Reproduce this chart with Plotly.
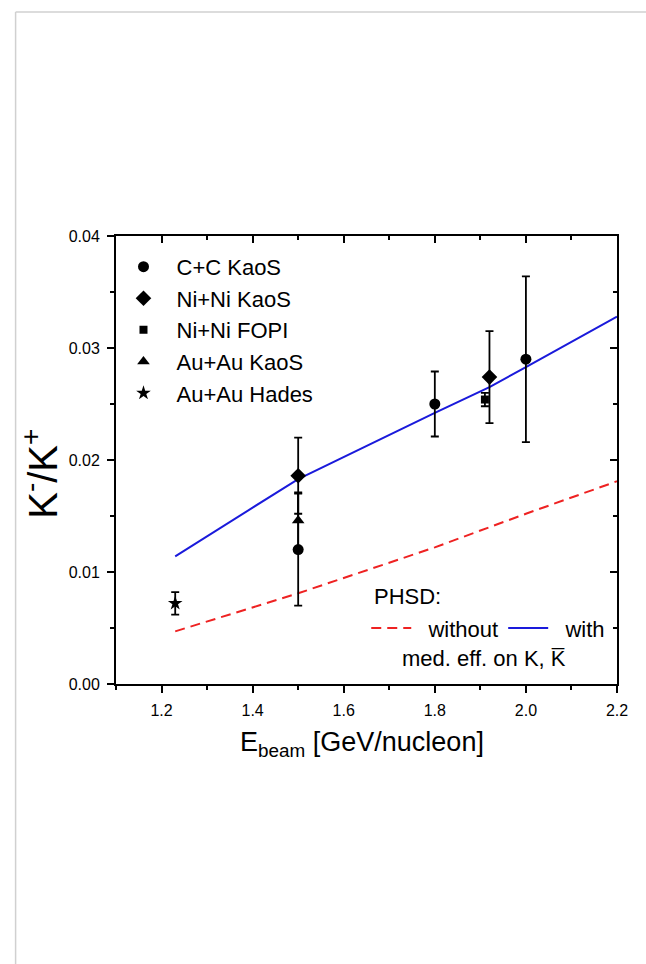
import plotly.graph_objects as go

# ---- data ----
cc_x = [1.5, 1.8, 2.0]
cc_y = [0.012, 0.025, 0.029]
cc_err = [0.005, 0.0029, 0.0074]

nini_kaos_x = [1.5, 1.92]
nini_kaos_y = [0.0186, 0.0274]
nini_kaos_err = [0.0034, 0.0041]

nini_fopi_x = [1.91]
nini_fopi_y = [0.0254]
nini_fopi_err = [0.0006]

auau_kaos_x = [1.5]
auau_kaos_y = [0.0146]
auau_kaos_err = [0.0025]

hades_x = [1.23]
hades_y = [0.0072]
hades_err = [0.001]

with_x = [1.23, 1.5, 1.8, 1.92, 2.0, 2.2]
with_y = [0.0114, 0.0183, 0.0242, 0.0265, 0.0283, 0.0328]

without_x = [1.23, 1.5, 1.8, 2.0, 2.2]
without_y = [0.0047, 0.0081, 0.0122, 0.0152, 0.0181]

FONT = "Liberation Sans, Arial, Helvetica, sans-serif"

fig = go.Figure()

# model curves
fig.add_trace(go.Scatter(x=without_x, y=without_y, mode="lines", name="  without",
                         line=dict(color="#ee2222", width=2, dash="10px,6px"),
                         legend="legend2"))
fig.add_trace(go.Scatter(x=with_x, y=with_y, mode="lines", name="  with",
                         line=dict(color="#1a1adb", width=2),
                         legend="legend2"))

def data_trace(x, y, err, name, symbol, size):
    return go.Scatter(x=x, y=y, mode="markers", name=name,
                      marker=dict(symbol=symbol, size=size, color="black"),
                      error_y=dict(type="data", array=err, visible=True,
                                   color="black", thickness=1.8, width=4),
                      legend="legend")

fig.add_trace(data_trace(cc_x, cc_y, cc_err, "C+C KaoS", "circle", 11))
fig.add_trace(data_trace(nini_kaos_x, nini_kaos_y, nini_kaos_err, "Ni+Ni KaoS", "diamond", 12))
fig.add_trace(data_trace(nini_fopi_x, nini_fopi_y, nini_fopi_err, "Ni+Ni FOPI", "square", 8))
fig.add_trace(data_trace(auau_kaos_x, auau_kaos_y, auau_kaos_err, "Au+Au KaoS", "triangle-up", 11))
fig.add_trace(data_trace(hades_x, hades_y, hades_err, "Au+Au Hades", "star", 11))

# empty helper traces so that the mirrored (top / right) frame axes get drawn
fig.add_trace(go.Scatter(x=[], y=[], xaxis="x2", yaxis="y", showlegend=False,
                         hoverinfo="skip"))
fig.add_trace(go.Scatter(x=[], y=[], xaxis="x", yaxis="y2", showlegend=False,
                         hoverinfo="skip"))

xr = [1.1, 2.2]
yr = [0.0, 0.04]

common_x = dict(range=xr, tick0=1.2, dtick=0.2, showgrid=False, zeroline=False,
                showline=True, linecolor="black", linewidth=2,
                tickcolor="black", tickwidth=1.5, ticklen=7, autorange=False)
common_y = dict(range=yr, tick0=0, dtick=0.01, showgrid=False, zeroline=False,
                showline=True, linecolor="black", linewidth=2,
                tickcolor="black", tickwidth=1.5, ticklen=7, autorange=False)

fig.update_layout(
    width=646, height=964,
    margin=dict(l=115.5, r=29, t=236, b=280, autoexpand=False),
    paper_bgcolor="white", plot_bgcolor="white",
    font=dict(family=FONT, color="black", size=16),
    xaxis=dict(**common_x, side="bottom", ticks="outside", tickformat=".1f",
               tickfont=dict(size=16), ticklabelstandoff=4,
               minor=dict(ticks="outside", dtick=0.1, tick0=1.1, ticklen=4,
                          tickwidth=1.5, tickcolor="black")),
    yaxis=dict(**common_y, side="left", ticks="outside", tickformat=".2f",
               tickfont=dict(size=16), ticklabelstandoff=4,
               minor=dict(ticks="outside", dtick=0.005, tick0=0, ticklen=4,
                          tickwidth=1.5, tickcolor="black")),
    xaxis2=dict(**common_x, overlaying="x", anchor="y", side="top", ticks="inside",
                showticklabels=False,
                minor=dict(ticks="inside", dtick=0.1, tick0=1.1, ticklen=4,
                           tickwidth=1.5, tickcolor="black")),
    yaxis2=dict(**common_y, overlaying="y", anchor="x", side="right", ticks="inside",
                showticklabels=False,
                minor=dict(ticks="inside", dtick=0.005, tick0=0, ticklen=4,
                           tickwidth=1.5, tickcolor="black")),
    legend=dict(x=-0.011, y=0.978, xanchor="left", yanchor="top",
                bgcolor="rgba(0,0,0,0)", borderwidth=0,
                font=dict(size=22, family=FONT), itemwidth=56,
                traceorder="normal"),
    legend2=dict(orientation="h", x=0.4995, y=0.1714, xanchor="left", yanchor="top",
                 bgcolor="rgba(0,0,0,0)", borderwidth=0,
                 font=dict(size=22, family=FONT), itemwidth=40,
                 traceorder="normal"),
    showlegend=True,
)

# axis titles and model-curve caption
fig.add_annotation(text="K<sup>-</sup>/K<sup>+</sup>", xref="paper", yref="paper",
                   x=-0.151, y=0.47, textangle=-90, showarrow=False,
                   font=dict(size=40, family=FONT), xanchor="center", yanchor="middle")
fig.add_annotation(text="E<sub>beam</sub> [GeV/nucleon]", xref="paper", yref="paper",
                   x=0.4915, y=-0.135, showarrow=False,
                   font=dict(size=27, family=FONT), xanchor="center", yanchor="middle")
fig.add_annotation(text="PHSD:", xref="paper", yref="paper",
                   x=0.5115, y=0.1964, showarrow=False,
                   font=dict(size=22, family=FONT), xanchor="left", yanchor="middle")
fig.add_annotation(text="med. eff. on K, K\u0305", xref="paper", yref="paper",
                   x=0.735, y=0.058, showarrow=False,
                   font=dict(size=22, family=FONT), xanchor="center", yanchor="middle")

# page frame (light gray border)
frame_color = "#d0d0d0"
fig.add_shape(type="line", xref="paper", yref="paper",
              x0=-0.2004, x1=-0.2004, y0=-0.7, y1=1.5,
              line=dict(color=frame_color, width=1.5))
fig.add_shape(type="line", xref="paper", yref="paper",
              x0=-0.2004, x1=1.1, y0=1.5, y1=1.5,
              line=dict(color=frame_color, width=1.5))

fig.write_html("out.html")
